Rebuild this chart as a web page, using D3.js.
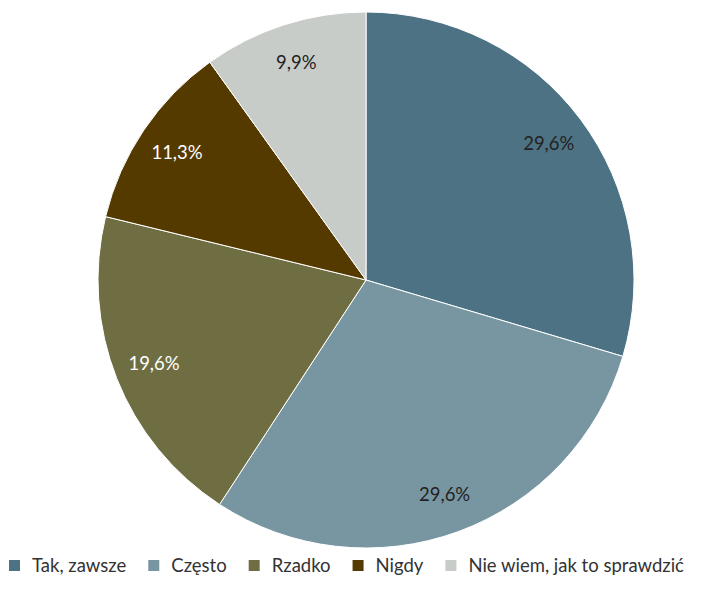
<!DOCTYPE html>
<html>
<head>
<meta charset="utf-8">
<script src="https://cdn.jsdelivr.net/npm/d3@7"></script>
<style>
  body { margin: 0; background: #fff; }
  svg { display: block; font-family: Lato, "Source Sans Pro", sans-serif; }
</style>
</head>
<body>
<script>
"use strict";

// categories and values (percent)
var categories = ["Tak, zawsze", "Często", "Rzadko", "Nigdy", "Nie wiem, jak to sprawdzić"];
var values = [29.6, 29.6, 19.6, 11.3, 9.9];
var colors = ["#4d7283", "#7896a2", "#6f6e43", "#553a00", "#c8ccc8"];
var labelColors = ["#222", "#222", "#fff", "#fff", "#222"];

var width = 724, height = 604;
var cx = 366, cy = 280, radius = 268;

var data = categories.map(function(c, i){
  return {name: c, value: values[i], color: colors[i], labelColor: labelColors[i]};
});

var svg = d3.select("body").append("svg")
    .attr("width", width)
    .attr("height", height);

var pie = d3.pie()
    .sort(null)
    .value(function(d){ return d.value; });

var arc = d3.arc().innerRadius(0).outerRadius(radius);
var labelArc = d3.arc().innerRadius(228).outerRadius(228);

var g = svg.append("g")
    .attr("transform", "translate(" + cx + "," + cy + ")");

var slices = g.selectAll(".slice")
  .data(pie(data))
  .enter().append("g")
    .attr("class", "slice");

slices.append("path")
    .attr("d", arc)
    .attr("fill", function(d){ return d.data.color; })
    .attr("stroke", "#fff")
    .attr("stroke-width", 1);

slices.append("text")
    .attr("transform", function(d){ return "translate(" + labelArc.centroid(d) + ")"; })
    .attr("text-anchor", "middle")
    .attr("dy", "0.35em")
    .attr("font-size", 18.5)
    .attr("fill", function(d){ return d.data.labelColor; })
    .text(function(d){ return d3.format(".1f")(d.data.value).replace(".", ",") + "%"; });

// legend
var legend = svg.append("g")
    .attr("class", "legend")
    .attr("transform", "translate(9,566)");

var x = 0;
data.forEach(function(d){
  var item = legend.append("g").attr("transform", "translate(" + x + ",0)");
  item.append("rect")
      .attr("x", 0).attr("y", -6)
      .attr("width", 11).attr("height", 11)
      .attr("fill", d.color);
  var t = item.append("text")
      .attr("x", 23)
      .attr("dy", "0.35em")
      .attr("font-size", 18.5)
      .attr("fill", "#333")
      .text(d.name);
  x += 23 + t.node().getComputedTextLength() + 22;
});
</script>
</body>
</html>
